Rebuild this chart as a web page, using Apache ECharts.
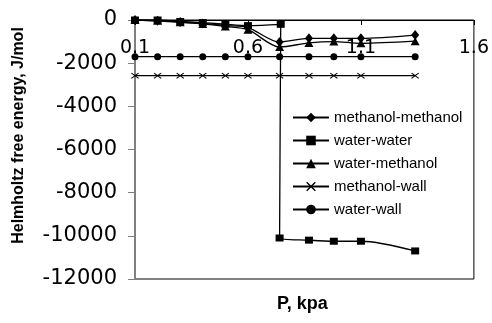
<!DOCTYPE html>
<html>
<head>
<meta charset="utf-8">
<script src="https://cdn.jsdelivr.net/npm/echarts@6/dist/echarts.min.js"></script>
<style>
html,body{margin:0;padding:0;background:#fff;}
#chart{width:492px;height:323px;}
</style>
</head>
<body>
<div id="chart"></div>
<script>
// ---- data ----
var seriesNames = ['methanol-methanol', 'water-water', 'water-methanol', 'methanol-wall', 'water-wall'];
var pressures = [0.1, 0.2, 0.3, 0.4, 0.5, 0.6, 0.74, 0.87, 0.98, 1.1, 1.34];
var wwPressures = [0.1, 0.2, 0.3, 0.4, 0.5, 0.6, 0.745, 0.74, 0.87, 0.98, 1.1, 1.34];
var methanolMethanol = [0, -30, -90, -160, -260, -350, -1020, -850, -850, -850, -700];
var waterWater = [0, 0, -70, -120, -200, -260, -200, -10100, -10200, -10250, -10250, -10700];
var waterMethanol = [0, -40, -110, -180, -300, -450, -1250, -1060, -1000, -1080, -980];
var methanolWall = [-2580, -2580, -2580, -2580, -2580, -2580, -2580, -2580, -2580, -2580, -2580];
var waterWall = [-1700, -1700, -1700, -1700, -1700, -1700, -1700, -1700, -1700, -1700, -1700];
var xTickLabels = [0.1, 0.6, 1.1, 1.6];
var yTickLabels = [0, -2000, -4000, -6000, -8000, -10000, -12000];

function pairs(xs, ys) { return xs.map(function (x, i) { return [x, ys[i]]; }); }

var xMark = 'path://M0,1L1,0L5,4L9,0L10,1L6,5L10,9L9,10L5,6L1,10L0,9L4,5Z';

function mkSeries(name, data, symbol, size) {
  return {
    name: name, type: 'line', data: data, smooth: 0.3,
    symbol: symbol, symbolSize: size,
    lineStyle: { color: '#000', width: 1.3 },
    itemStyle: { color: '#000' },
    emphasis: { disabled: true },
    animation: false
  };
}

var chart = echarts.init(document.getElementById('chart'), null, { renderer: 'canvas' });
chart.setOption({
  animation: false,
  backgroundColor: '#fff',
  title: {
    text: 'P, kpa', left: 272, top: 290,
    textStyle: { fontFamily: 'Liberation Sans', fontSize: 18, fontWeight: 'bold', color: '#000' }
  },
  grid: { left: 135, top: 20, right: 17, bottom: 44, show: true, borderColor: '#000', borderWidth: 1, backgroundColor: 'transparent' },
  legend: {
    orient: 'vertical', left: 287, top: 105, itemWidth: 36, itemHeight: 12, itemGap: 8,
    data: seriesNames,
    textStyle: { fontFamily: 'Liberation Sans', fontSize: 15, color: '#000' }
  },
  xAxis: {
    type: 'value', position: 'top', min: 0.1, max: 1.6, interval: 0.5,
    axisLine: { onZero: false, lineStyle: { color: '#000', width: 1 } },
    axisTick: { inside: true, length: 5, lineStyle: { color: '#000' } },
    axisLabel: {
      inside: true, margin: 19, fontFamily: 'DejaVu Sans', fontSize: 19, color: '#000',
      customValues: xTickLabels,
      formatter: function (v) { return v.toFixed(1); }
    },
    splitLine: { show: false }
  },
  yAxis: {
    type: 'value', min: -12000, max: 0, interval: 2000,
    name: 'Helmholtz free energy, J/mol', nameLocation: 'middle', nameGap: 108,
    nameTextStyle: { fontFamily: 'Liberation Sans', fontSize: 16, fontWeight: 'bold', color: '#000', padding: [0, 0, 0, 28] },
    axisLine: { show: true, lineStyle: { color: '#808080', width: 1 } },
    axisTick: { show: true, length: 7, lineStyle: { color: '#808080' } },
    axisLabel: {
      margin: 18, fontFamily: 'DejaVu Sans', fontSize: 21, color: '#000', customValues: yTickLabels,
      formatter: function (v) { return String(v); }
    },
    splitLine: { show: false }
  },
  series: [
    mkSeries(seriesNames[0], pairs(pressures, methanolMethanol), 'diamond', [8, 10]),
    mkSeries(seriesNames[1], pairs(wwPressures, waterWater), 'rect', [8, 7]),
    mkSeries(seriesNames[2], pairs(pressures, waterMethanol), 'triangle', [9, 8]),
    mkSeries(seriesNames[3], pairs(pressures, methanolWall), xMark, [8, 6]),
    mkSeries(seriesNames[4], pairs(pressures, waterWall), 'circle', 7)
  ]
});
</script>
</body>
</html>
